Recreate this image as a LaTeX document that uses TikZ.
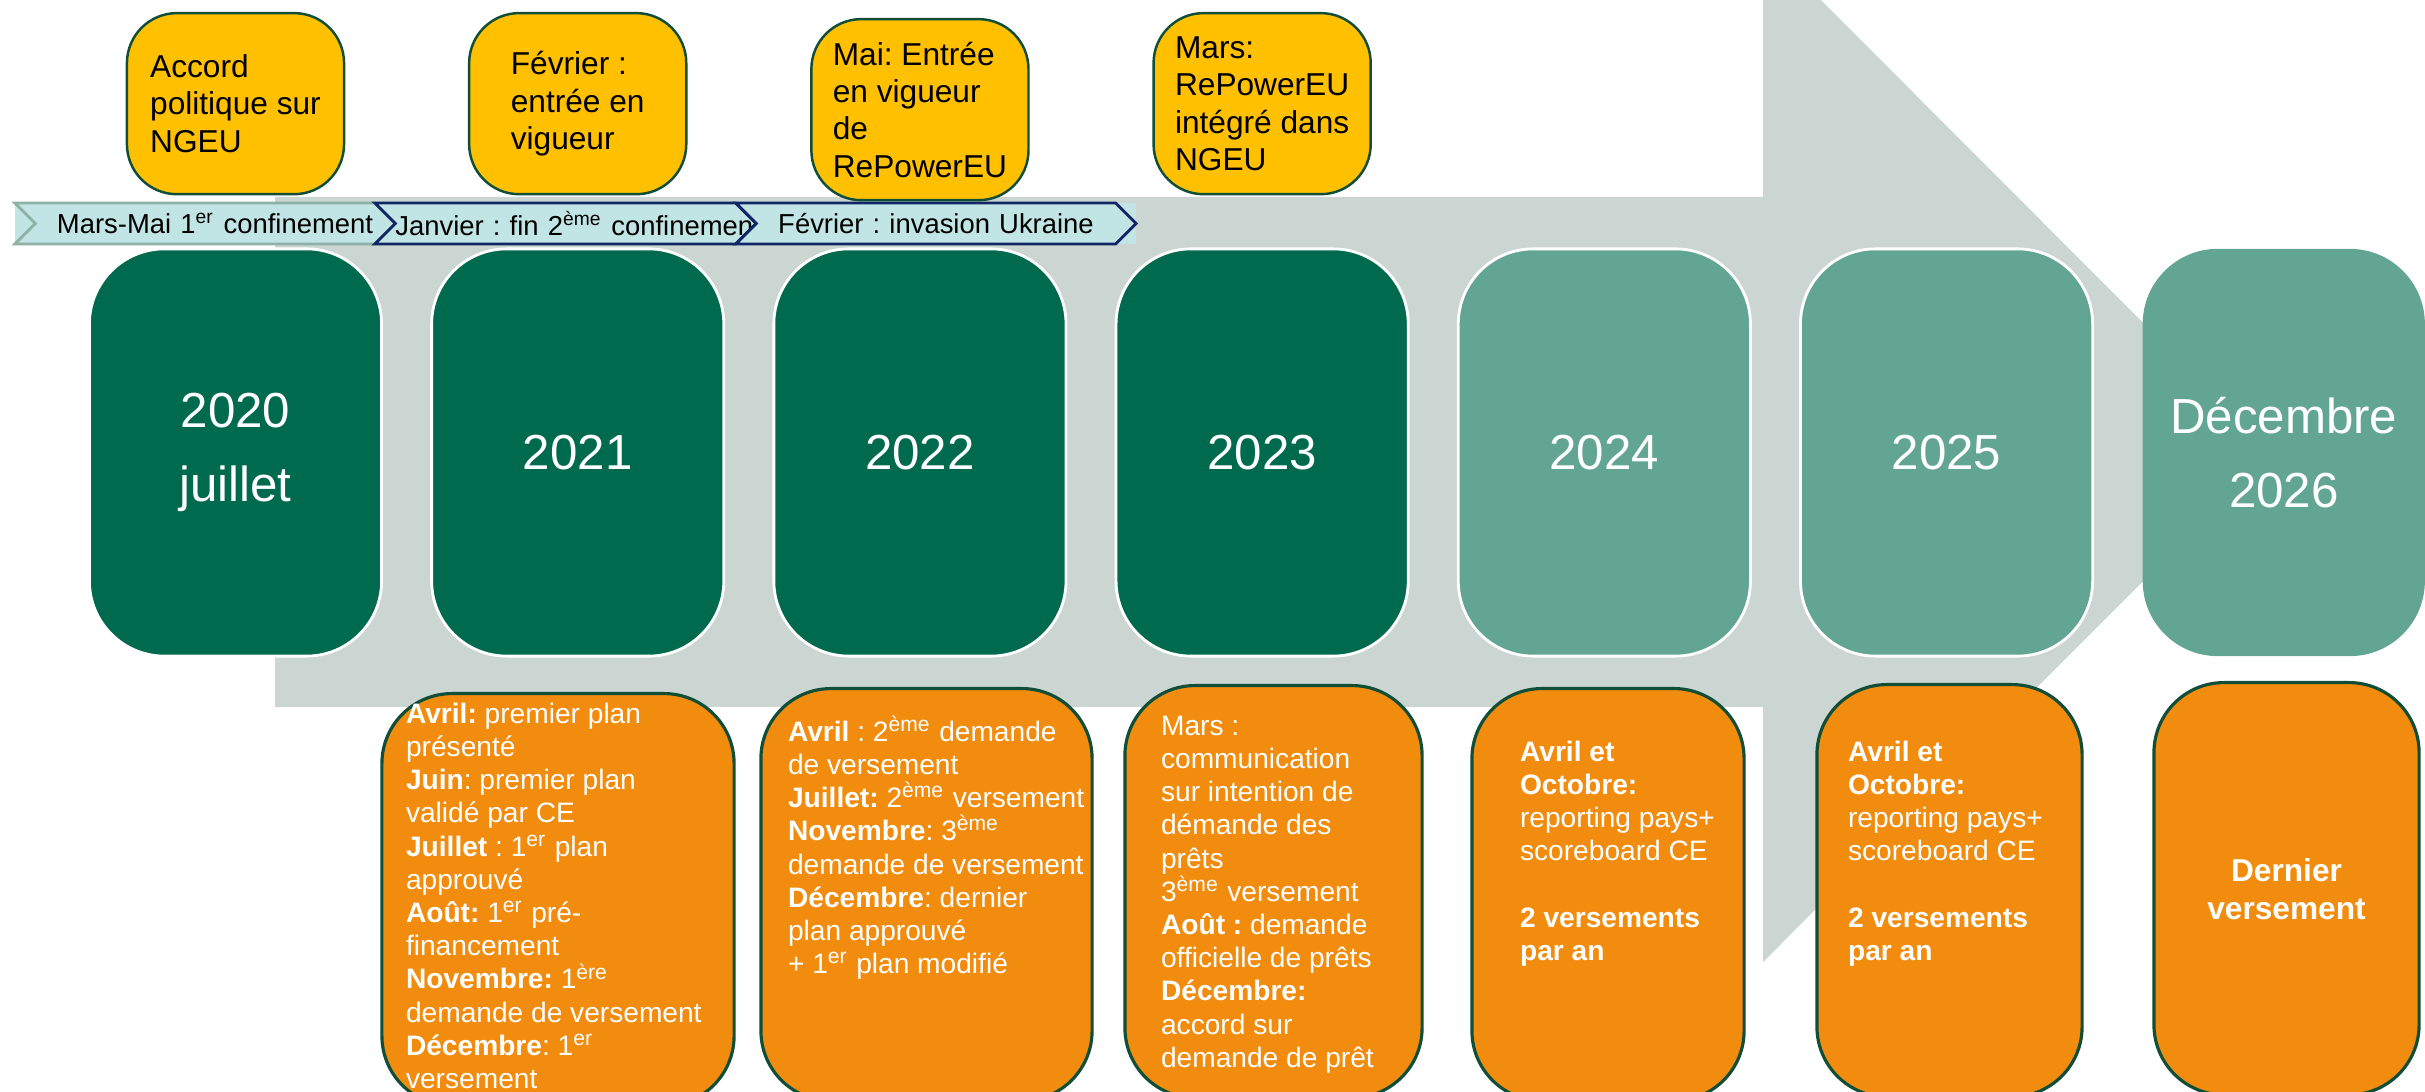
\documentclass[tikz,border=0pt]{standalone}
\usepackage{fontspec}
\setmainfont{Liberation Sans}
\frenchspacing
\usetikzlibrary{
	chains,
	positioning,
	shapes.symbols
}
\definecolor{arrowgrey}{RGB}{203,213,210}
\definecolor{darkgreen}{RGB}{0,106,78}
\definecolor{lightgreen}{RGB}{99,165,147}
\definecolor{boxborder}{RGB}{16,78,56}
\definecolor{eventyellow}{RGB}{255,192,0}
\definecolor{planorange}{RGB}{242,140,15}
\definecolor{phasecyan}{RGB}{193,228,228}
\definecolor{phasegrey}{RGB}{143,176,165}
\definecolor{phasenavy}{RGB}{17,38,102}

\begin{document}
\begin{tikzpicture}[
	x = 0.01cm, y = -0.01cm,
	node distance = 4.72mm,
	start chain = going right,
	yearbox/.style = {
		rectangle, rounded corners=7.5mm, draw=white, line width=0.8pt,
		minimum width=29.2mm, minimum height=40.7mm,
		align=center, text=white, font=\fontsize{14}{21}\selectfont
	},
	eventbox/.style = {
		rectangle, rounded corners=5mm, draw=boxborder, line width=0.7pt,
		fill=eventyellow, minimum width=21.7mm, minimum height=18.1mm,
		align=left, font=\fontsize{9}{10.6}\selectfont
	},
	planbox/.style = {
		rectangle, rounded corners=7mm, draw=boxborder, line width=0.9pt,
		fill=planorange, minimum height=41.2mm, anchor=north,
		align=center, text=white, font=\fontsize{9}{10.8}\selectfont\bfseries
	},
	plantext/.style = {
		inner sep=0pt, align=left, text=white,
		font=\fontsize{8}{9.45}\selectfont
	},
	phase/.style = {
		shape=signal, signal from=west, signal to=east,
		fill=phasecyan, draw=phasenavy, line width=0.8pt,
		minimum height=4.1mm, inner xsep=0pt, inner ysep=0pt,
		text width=#1, align=center, font=\fontsize{7.8}{9}\selectfont
	}
]

	\useasboundingbox (0,0) rectangle (2425,1092);

	\fill [arrowgrey] (275,197) -- (1763,197) -- (1763,-58) -- (2272,452)
		-- (1763,962) -- (1763,707) -- (275,707) -- cycle;

	\fill [phasecyan] (15,203) rectangle (1136,244);
	\node (ph1) [phase=33.9mm, draw=phasegrey] at (205,223.5) {\hspace{2mm}Mars-Mai 1\textsuperscript{er} confinement};
	\node (ph2) [phase=34mm] at (565.5,223.5) {\mbox{Janvier : fin 2\textsuperscript{ème} confinement}};
	\node (ph3) [phase=35.9mm] at (936,223.5) {Février : invasion Ukraine};

	\node (y2020) [yearbox, on chain, fill=darkgreen] at (235.5,452.5) {2020\\juillet};
	\node (y2021) [yearbox, on chain, fill=darkgreen] {2021};
	\node (y2022) [yearbox, on chain, fill=darkgreen] {2022};
	\node (y2023) [yearbox, on chain, fill=darkgreen] {2023};
	\node (y2024) [yearbox, on chain, fill=lightgreen] {2024};
	\node (y2025) [yearbox, on chain, fill=lightgreen] {2025};
	\node (y2026) [yearbox, on chain, fill=lightgreen, draw=none, minimum width=28.2mm] {Décembre\\2026};

	\node (e2020) [eventbox, above=5.2mm of y2020] {Accord\\politique sur\\NGEU};
	\node (e2021) [eventbox, above=5.2mm of y2021] {Février :\\entrée en\\vigueur};
	\node (e2022) [eventbox, above=4.6mm of y2022] {Mai: Entrée\\en vigueur\\de\\RePowerEU};
	\node (e2023) [eventbox, above=5.2mm of y2023] {Mars:\\RePowerEU\\intégré dans\\NGEU};

	\node (p2021) [planbox, minimum width=35.2mm] at (558,692) {};
	\node (t2021) [plantext, below right=1mm and 2.5mm of p2021.north west] {%
		\textbf{Avril:} premier plan\\
		présenté\\
		\textbf{Juin}: premier plan\\
		validé par CE\\
		\textbf{Juillet} : 1\textsuperscript{er} plan\\
		approuvé\\
		\textbf{Août:} 1\textsuperscript{er} pré-\\
		financement\\
		\textbf{Novembre:} 1\textsuperscript{ère}\\
		demande de versement\\
		\textbf{Décembre}: 1\textsuperscript{er}\\
		versement};

	\node (p2022) [planbox, minimum width=33.1mm] at (926.5,687) {};
	\node (t2022) [plantext, below right=2.8mm and 2.8mm of p2022.north west] {%
		\textbf{Avril} : 2\textsuperscript{ème} demande\\
		de versement\\
		\textbf{Juillet:} 2\textsuperscript{ème} versement\\
		\textbf{Novembre}: 3\textsuperscript{ème}\\
		demande de versement\\
		\textbf{Décembre}: dernier\\
		plan approuvé\\
		+ 1\textsuperscript{er} plan modifié};

	\node (p2023) [planbox, minimum width=29.7mm] at (1273.5,684) {};
	\node (t2023) [plantext, below right=3.1mm and 3.7mm of p2023.north west] {%
		Mars :\\
		communication\\
		sur intention de\\
		démande des\\
		prêts\\
		3\textsuperscript{ème} versement\\
		\textbf{Août :} demande\\
		officielle de prêts\\
		\textbf{Décembre:}\\
		accord sur\\
		demande de prêt};

	\node (p2024) [planbox, minimum width=27.2mm] at (1608,687) {};
	\node (t2024) [plantext, below right=5.3mm and 4.9mm of p2024.north west] {%
		\textbf{Avril et}\\
		\textbf{Octobre:}\\
		reporting pays+\\
		scoreboard CE\\[9.45pt]
		\textbf{2 versements}\\
		\textbf{par an}};

	\node (p2025) [planbox, minimum width=26.5mm] at (1949.5,683) {};
	\node (t2025) [plantext, below right=5.7mm and 3.2mm of p2025.north west] {%
		\textbf{Avril et}\\
		\textbf{Octobre:}\\
		reporting pays+\\
		scoreboard CE\\[9.45pt]
		\textbf{2 versements}\\
		\textbf{par an}};

	\node (p2026) [planbox, minimum width=26.5mm] at (2286.5,681) {Dernier\\versement};

\end{tikzpicture}
\end{document}
